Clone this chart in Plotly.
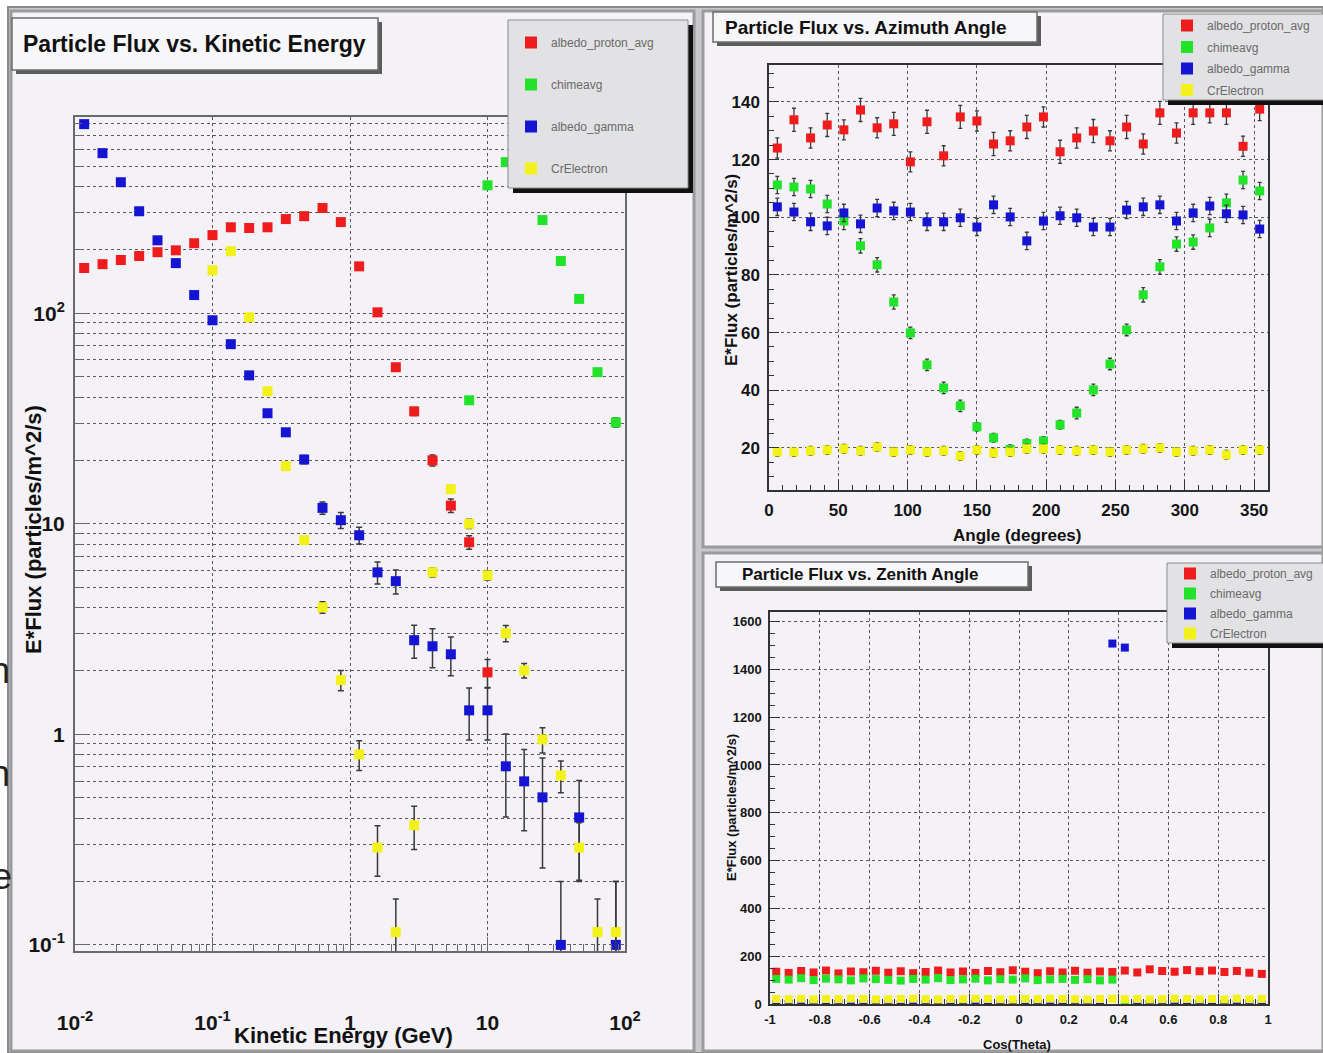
import plotly.graph_objects as go

W, H = 1323, 1053

def px(x):
    return x / W

def py(y):
    return 1 - y / H

# ---------------- Kinetic energy pad (log-log) ----------------
energy_gev = [0.01166, 0.01585, 0.02154, 0.02929, 0.03981, 0.05412, 0.07356, 0.1,
              0.1359, 0.1848, 0.2512, 0.3415, 0.4642, 0.6310, 0.8577, 1.166,
              1.585, 2.154, 2.929, 3.981, 5.412, 7.356, 10.0, 13.59,
              18.48, 25.12, 34.15, 46.42, 63.10, 85.77]

ke_proton = [164, 171, 179, 187, 195, 199, 215, 235, 256, 254, 256, 280, 289, 316, 271,
             167, 101, 55.4, 34.2, 20.0, 12.2, 8.17, 1.97,
             None, None, None, None, None, None, None]
ke_proton_err = [3, 3, 3, 3, 3, 3, 3, 4, 4, 4, 4, 5, 5, 6, 5,
                 4, 3, 2, 1.5, 1.2, 0.9, 0.6, 0.3,
                 None, None, None, None, None, None, None]

ke_chime = [None] * 21 + [38.6, 405, 522, 438, 277, 177, 117, 52.5, 30.3]
ke_chime_err = [None] * 21 + [1.5, 6, 8, 7, 5, 4, 3, 2, 1.5]

ke_gamma = [791, 576, 419, 305, 222, 173, 122, 92.6, 71.3, 50.7, 33.5, 27.2, 20.2,
            11.9, 10.4, 8.82, 5.88, 5.34, 2.80, 2.62, 2.40, 1.30, 1.30,
            0.705, 0.598, 0.502, 0.1, 0.403, None, 0.1]
ke_gamma_err = [6, 5, 4, 4, 3, 3, 2.5, 2, 2, 1.5, 1.2, 1.1, 0.9,
                0.8, 0.9, 0.8, 0.7, 0.7, 0.5, 0.55, 0.5, 0.36, 0.36,
                0.3, 0.25, 0.27, 0.1, 0.2, None, 0.1]
ke_gamma_err_lo = [6, 5, 4, 4, 3, 3, 2.5, 2, 2, 1.5, 1.2, 1.1, 0.9,
                   0.8, 0.9, 0.8, 0.7, 0.7, 0.5, 0.55, 0.5, 0.36, 0.36,
                   0.3, 0.25, 0.27, 0.09, 0.2, None, 0.09]

ke_electron = [None] * 7 + [160, 197, 95.7, 42.6, 18.8, 8.36, 4.01, 1.81, 0.803, 0.290,
                            0.115, 0.370, 5.89, 14.6, 10.0, 5.69, 3.02, 2.01, 0.946,
                            0.638, 0.290, 0.115, 0.115]
ke_electron_err = [None] * 7 + [2, 2.5, 1.5, 0.9, 0.5, 0.3, 0.25, 0.2, 0.13, 0.078,
                                0.05, 0.086, 0.3, 0.6, 0.5, 0.3, 0.27, 0.16, 0.13,
                                0.11, 0.09, 0.05, 0.085]

ke_xticks = [0.01, 0.1, 1, 10, 100]
ke_xticklabels = ["10<sup>-2</sup>", "10<sup>-1</sup>", "1", "10", "10<sup>2</sup>"]
ke_yticks = [0.1, 1, 10, 100]
ke_yticklabels = ["10<sup>-1</sup>", "1", "10", "10<sup>2</sup>"]

# ---------------- Azimuth pad ----------------
azimuth_deg = [6, 18, 30, 42, 54, 66, 78, 90, 102, 114, 126, 138, 150, 162, 174,
               186, 198, 210, 222, 234, 246, 258, 270, 282, 294, 306, 318, 330, 342, 354]
az_proton = [124.0, 133.8, 127.5, 132.0, 130.3, 137.2, 131.0, 132.4, 119.2, 133.1,
             121.3, 134.8, 133.4, 125.4, 126.5, 131.3, 134.8, 122.7, 127.5, 129.9,
             126.5, 131.3, 125.4, 136.2, 129.2, 136.2, 136.2, 136.2, 124.6, 137.5]
az_proton_err = [3.5, 4, 3.5, 4, 3.5, 4, 3.5, 4, 3.5, 4, 3.5, 4, 3.5, 4, 3.5,
                 4, 3.5, 4, 3.5, 4, 3.5, 4, 3.5, 4, 3.5, 4, 3.5, 4, 3.5, 4]
az_chime = [111.2, 110.5, 109.8, 104.6, 98.7, 90.1, 83.5, 70.6, 59.9, 48.8,
            40.8, 34.6, 27.3, 23.5, 19.5, 21.5, 22.4, 28.0, 32.1, 40.1,
            49.1, 60.9, 73.1, 82.8, 90.7, 91.4, 96.3, 105.0, 112.9, 109.1]
az_chime_err = [3, 3, 3, 3, 3, 2.5, 2.5, 2.5, 2, 2, 2, 2, 1.5, 1.5, 1.5,
                1.5, 1.5, 1.5, 2, 2, 2, 2, 2.5, 2.5, 2.5, 2.5, 3, 3, 3, 3]
az_gamma = [103.6, 101.8, 98.4, 97.0, 101.5, 97.7, 103.2, 102.2, 101.8, 98.4,
            98.4, 99.8, 96.6, 104.3, 100.1, 91.8, 98.7, 100.5, 99.8, 96.6,
            96.6, 102.5, 103.6, 104.3, 98.7, 101.5, 103.9, 101.2, 100.8, 95.9]
az_gamma_err = [3, 3, 3, 3, 3, 3, 3, 3, 3, 3, 3, 3, 3, 3, 3,
                3, 3, 3, 3, 3, 3, 3, 3, 3, 3, 3, 3, 3, 3, 3]
az_electron = [18.6, 18.6, 19.0, 19.3, 19.7, 19.0, 20.3, 18.6, 19.3, 18.6,
               19.0, 17.2, 19.3, 18.3, 18.6, 19.7, 19.7, 19.3, 19.0, 19.3,
               18.6, 19.3, 19.7, 20.0, 18.6, 19.0, 19.3, 17.6, 19.3, 19.3]
az_electron_err = [1.5, 1.5, 1.5, 1.5, 1.5, 1.5, 1.5, 1.5, 1.5, 1.5, 1.5, 1.5, 1.5, 1.5, 1.5,
                   1.5, 1.5, 1.5, 1.5, 1.5, 1.5, 1.5, 1.5, 1.5, 1.5, 1.5, 1.5, 1.5, 1.5, 1.5]

# ---------------- Zenith pad ----------------
cos_theta = [-0.975, -0.925, -0.875, -0.825, -0.775, -0.725, -0.675, -0.625, -0.575, -0.525,
             -0.475, -0.425, -0.375, -0.325, -0.275, -0.225, -0.175, -0.125, -0.075, -0.025,
             0.025, 0.075, 0.125, 0.175, 0.225, 0.275, 0.325, 0.375, 0.425, 0.475,
             0.525, 0.575, 0.625, 0.675, 0.725, 0.775, 0.825, 0.875, 0.925, 0.975]
zen_proton = [135, 130, 138, 132, 140, 128, 136, 133, 139, 131,
              137, 129, 134, 140, 132, 136, 130, 138, 133, 141,
              135, 129, 137, 132, 139, 131, 136, 134, 140, 132,
              145, 138, 135, 142, 137, 140, 134, 138, 131, 126]
zen_chime = [105, 102, 108, 100, 106, 103, 99, 107, 104, 101,
             98, 105, 102, 108, 100, 103, 106, 99, 104, 102,
             107, 100, 103, 105, 101, 104, 99, 102, 0, 0,
             0, 0, 0, 0, 0, 0, 0, 0, 0, 0]
zen_gamma = [0, 0, 0, 0, 0, 0, 0, 0, 0, 0,
             0, 0, 0, 0, 0, 0, 0, 0, 0, 0,
             0, 0, 0, 0, 0, 0, 0, 1508, 1491, 0,
             0, 0, 0, 0, 0, 0, 0, 0, 0, 0]
zen_electron = [21, 20, 22, 19, 21, 20, 22, 21, 19, 20,
                21, 22, 20, 19, 21, 20, 22, 21, 20, 19,
                21, 20, 22, 21, 20, 19, 21, 22, 20, 21,
                19, 20, 22, 21, 20, 21, 19, 22, 20, 21]
zen_xticks = [-1, -0.8, -0.6, -0.4, -0.2, 0, 0.2, 0.4, 0.6, 0.8, 1]
zen_xticklabels = ["-1", "-0.8", "-0.6", "-0.4", "-0.2", "0", "0.2", "0.4", "0.6", "0.8", "1"]

series_names = ["albedo_proton_avg", "chimeavg", "albedo_gamma", "CrElectron"]
series_colors = ["#ee1c1c", "#22e22a", "#1414d2", "#f2f21a"]

FONT = "Liberation Sans, Arial, sans-serif"
ERRC = "#3a3a3a"

fig = go.Figure()

ke_sets = [(ke_proton, ke_proton_err, None), (ke_chime, ke_chime_err, None),
           (ke_gamma, ke_gamma_err, ke_gamma_err_lo), (ke_electron, ke_electron_err, None)]
for i, (vals, err, errlo) in enumerate(ke_sets):
    ey = dict(type="data", array=err, color=ERRC, thickness=1.5, width=3)
    if errlo is not None:
        ey["symmetric"] = False
        ey["arrayminus"] = errlo
    fig.add_trace(go.Scatter(
        x=energy_gev, y=vals, mode="markers", name=series_names[i],
        marker=dict(symbol="square", size=10, color=series_colors[i]),
        error_y=ey, xaxis="x", yaxis="y", legend="legend", legendgroup="a%d" % i))

az_sets = [(az_proton, az_proton_err), (az_chime, az_chime_err),
           (az_gamma, az_gamma_err), (az_electron, az_electron_err)]
for i, (vals, err) in enumerate(az_sets):
    fig.add_trace(go.Scatter(
        x=azimuth_deg, y=vals, mode="markers", name=series_names[i],
        marker=dict(symbol="square", size=9, color=series_colors[i]),
        error_y=dict(type="data", array=err, color=ERRC, thickness=1.3, width=2),
        xaxis="x2", yaxis="y2", legend="legend2", legendgroup="b%d" % i))

zen_sets = [zen_proton, zen_chime, zen_gamma, zen_electron]
for i, vals in enumerate(zen_sets):
    fig.add_trace(go.Scatter(
        x=cos_theta, y=vals, mode="markers", name=series_names[i],
        marker=dict(symbol="square", size=8, color=series_colors[i]),
        xaxis="x3", yaxis="y3", legend="legend3", legendgroup="c%d" % i))

GRID = "#5a5a5a"
GDASH = "3px,3px"
LINEC = "#6a6a6a"

def tfont(size):
    return dict(family=FONT, size=size, color="#151515", weight="bold")

LEGFONT = dict(family="Liberation Sans", size=12, color="#6a6a6a")

layout = dict(
    width=W, height=H,
    margin=dict(l=0, r=0, t=0, b=0, autoexpand=False),
    paper_bgcolor="white",
    plot_bgcolor="rgba(0,0,0,0)",
    showlegend=True,
    xaxis=dict(type="log", range=[-2, 2], domain=[px(75), px(625)], anchor="y",
               tickvals=ke_xticks, ticktext=ke_xticklabels, tickfont=tfont(21),
               ticks="inside", ticklen=14, tickcolor=LINEC, ticklabelstandoff=52,
               showgrid=True, gridcolor=GRID, griddash=GDASH, gridwidth=1,
               minor=dict(dtick="D1", ticks="inside", ticklen=7, tickcolor=LINEC, showgrid=False),
               showline=True, mirror=True, linecolor=LINEC, linewidth=2, zeroline=False,
               automargin=False),
    yaxis=dict(type="log", range=[-1.029, 2.932], domain=[py(951), py(117)], anchor="x",
               tickvals=ke_yticks, ticktext=ke_yticklabels, tickfont=tfont(21),
               ticks="inside", ticklen=14, tickcolor=LINEC, ticklabelstandoff=4,
               showgrid=True, gridcolor=GRID, griddash=GDASH, gridwidth=1,
               minor=dict(dtick="D1", ticks="inside", ticklen=7, tickcolor=LINEC,
                          showgrid=True, gridcolor=GRID, griddash=GDASH, gridwidth=1),
               showline=True, mirror=True, linecolor=LINEC, linewidth=2, zeroline=False,
               automargin=False),
    xaxis2=dict(range=[0, 360], domain=[px(769), px(1268)], anchor="y2",
                tick0=0, dtick=50, tickfont=tfont(17), ticks="inside", ticklen=10,
                tickcolor="#333", ticklabelstandoff=4,
                showgrid=True, gridcolor=GRID, griddash=GDASH,
                minor=dict(dtick=10, ticks="inside", ticklen=5, tickcolor="#333", showgrid=False),
                showline=True, mirror=True, linecolor="#333", linewidth=1.5, zeroline=False,
                automargin=False),
    yaxis2=dict(range=[5.4, 152.8], domain=[py(490), py(65)], anchor="x2",
                tick0=0, dtick=20, tickfont=tfont(17), ticks="inside", ticklen=10,
                tickcolor="#333", ticklabelstandoff=4,
                showgrid=True, gridcolor=GRID, griddash=GDASH,
                minor=dict(dtick=5, ticks="inside", ticklen=5, tickcolor="#333", showgrid=False),
                showline=True, mirror=True, linecolor="#333", linewidth=1.5, zeroline=False,
                automargin=False),
    xaxis3=dict(range=[-1, 1], domain=[px(770), px(1268)], anchor="y3",
                tickvals=zen_xticks, ticktext=zen_xticklabels, tickfont=tfont(13),
                ticks="inside", ticklen=10, tickcolor="#333", ticklabelstandoff=3,
                showgrid=True, gridcolor=GRID, griddash=GDASH,
                minor=dict(dtick=0.05, ticks="inside", ticklen=5, tickcolor="#333", showgrid=False),
                showline=True, mirror=True, linecolor="#333", linewidth=1.5, zeroline=False,
                automargin=False),
    yaxis3=dict(range=[0, 1640], domain=[py(1004), py(612)], anchor="x3",
                tick0=0, dtick=200, tickfont=tfont(13), ticks="inside", ticklen=10,
                tickcolor="#333", ticklabelstandoff=4,
                showgrid=True, gridcolor=GRID, griddash=GDASH,
                minor=dict(dtick=50, ticks="inside", ticklen=5, tickcolor="#333", showgrid=False),
                showline=True, mirror=True, linecolor="#333", linewidth=1.5, zeroline=False,
                automargin=False),
    legend=dict(x=px(511), y=py(28), xanchor="left", yanchor="top",
                bgcolor="rgba(0,0,0,0)", borderwidth=0, font=LEGFONT,
                tracegroupgap=23, itemsizing="constant"),
    legend2=dict(x=px(1167), y=py(11), xanchor="left", yanchor="top",
                 bgcolor="rgba(0,0,0,0)", borderwidth=0, font=LEGFONT,
                 tracegroupgap=2.5, itemsizing="constant"),
    legend3=dict(x=px(1170), y=py(559), xanchor="left", yanchor="top",
                 bgcolor="rgba(0,0,0,0)", borderwidth=0, font=LEGFONT,
                 tracegroupgap=1, itemsizing="constant"),
)
fig.update_layout(**layout)

shapes = []
def rect(x0, y0, x1, y1, fill, line="rgba(0,0,0,0)", lw=0, layer="below"):
    shapes.append(dict(type="rect", xref="paper", yref="paper",
                       x0=px(x0), x1=px(x1), y0=py(y1), y1=py(y0),
                       fillcolor=fill, line=dict(color=line, width=lw), layer=layer))

# canvas + pads
rect(8, 7, 1323, 1053, "#c9c8cc", "#8a8a8a", 2)
rect(11, 11, 694, 1051, "#f4f2f6", "#9b9b9b", 3)
rect(703, 11, 1323, 547, "#f4f2f6", "#9b9b9b", 3)
rect(703, 553, 1323, 1051, "#f4f2f6", "#9b9b9b", 3)

# title boxes (shadow + box)
rect(16, 22, 382, 74, "#5c5c5c", layer="above")
rect(12, 18, 378, 70, "#f7f6f8", "#6e6e6e", 1.5, layer="above")
rect(717, 16, 1041, 46, "#5c5c5c", layer="above")
rect(713, 12, 1037, 42, "#f7f6f8", "#6e6e6e", 1.5, layer="above")
rect(720, 566, 1032, 591, "#5c5c5c", layer="above")
rect(716, 562, 1028, 587, "#f7f6f8", "#6e6e6e", 1.5, layer="above")

# legend boxes (shadow + box)
rect(513, 25, 693, 193, "#111111", layer="above")
rect(508, 20, 688, 188, "#e2e2e4", "#8a8a8a", 1, layer="above")
rect(1168, 19, 1330, 105, "#111111", layer="above")
rect(1163, 14, 1330, 100, "#e2e2e4", "#8a8a8a", 1, layer="above")
rect(1172, 568, 1330, 648, "#111111", layer="above")
rect(1167, 563, 1330, 643, "#e2e2e4", "#8a8a8a", 1, layer="above")

fig.update_layout(shapes=shapes)

ann = []
def text(x, y, s, size, angle=0, bold=True, family=FONT, color="#111", xanchor="center"):
    ann.append(dict(x=px(x), y=py(y), xref="paper", yref="paper", text=s, showarrow=False,
                    xanchor=xanchor, yanchor="middle", textangle=angle,
                    font=dict(family=family, size=size, color=color,
                              weight="bold" if bold else "normal")))

text(195, 44, "Particle Flux vs. Kinetic Energy", 23)
text(866, 27, "Particle Flux vs. Azimuth Angle", 19)
text(860, 574, "Particle Flux vs. Zenith Angle", 17)
text(343, 1035, "Kinetic Energy (GeV)", 22)
text(33, 530, "E*Flux (particles/m^2/s)", 22, angle=-90)
text(1017, 535, "Angle (degrees)", 17)
text(731, 270, "E*Flux (particles/m^2/s)", 17, angle=-90)
text(1017, 1044, "Cos(Theta)", 13)
text(731, 808, "E*Flux (particles/m^2/s)", 13, angle=-90)
# fragments of slide text visible at the left edge
text(12, 670, "n", 36, bold=False, family="Liberation Sans", color="#222", xanchor="right")
text(12, 773, "n", 36, bold=False, family="Liberation Sans", color="#222", xanchor="right")
text(14, 876, "e", 36, bold=False, family="Liberation Sans", color="#222", xanchor="right")
fig.update_layout(annotations=ann)

fig.write_html("out.html", config={"displayModeBar": False},
               post_script="document.body.style.margin='0px';")
